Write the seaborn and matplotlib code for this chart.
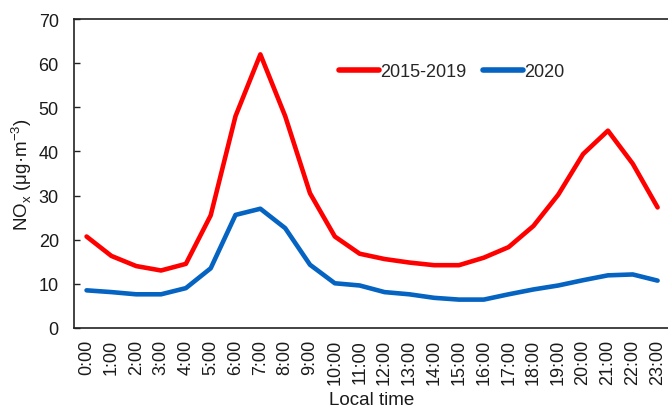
import matplotlib
matplotlib.use("Agg")
import matplotlib.pyplot as plt
import seaborn as sns
import pandas as pd

hours = [f"{h}:00" for h in range(24)]
nox_2015_2019 = [20.7, 16.3, 14.0, 13.0, 14.5, 25.5, 48.0, 62.0, 48.0, 30.5,
                 20.7, 16.8, 15.6, 14.8, 14.2, 14.2, 15.9, 18.3, 23.1, 30.2,
                 39.4, 44.7, 37.2, 27.3]
nox_2020 = [8.5, 8.1, 7.6, 7.6, 9.0, 13.5, 25.6, 27.0, 22.6, 14.3,
            10.1, 9.6, 8.1, 7.6, 6.8, 6.4, 6.4, 7.6, 8.7, 9.6,
            10.8, 11.9, 12.1, 10.7]
series_names = ["2015-2019", "2020"]
colors = ["#FF0000", "#0563C1"]

df = pd.DataFrame({
    "time": hours * 2,
    "hour": list(range(24)) * 2,
    "NOx": nox_2015_2019 + nox_2020,
    "period": [series_names[0]] * 24 + [series_names[1]] * 24,
})

sns.set_theme(style="white")
plt.rcParams["font.family"] = ["Liberation Sans", "DejaVu Sans"]

fig = plt.figure(figsize=(6.68, 4.10), dpi=100)
ax = fig.add_axes([0.111, 0.198, 0.892, 0.753])

sns.lineplot(data=df, x="hour", y="NOx", hue="period", palette=colors,
             linewidth=3.3, ax=ax, sort=False)

ax.set_xlim(-0.5, 23.5)
ax.set_ylim(0, 70)
ax.set_xticks(range(24))
ax.set_xticklabels(hours, rotation=90, fontsize=13, color="#1a1a1a")
ax.set_yticks(range(0, 71, 10))
ax.tick_params(axis="y", left=True, direction="in", length=4, width=1,
               labelsize=13, labelcolor="#1a1a1a", pad=11, color="#222222")
ax.tick_params(axis="x", length=0, pad=8)
for sp in ax.spines.values():
    sp.set_color("#222222")
    sp.set_linewidth(1.2)

ax.set_xlabel("Local time", fontsize=13.5, color="#1a1a1a", labelpad=5)
ax.set_ylabel(r"NO$_{\mathregular{x}}$ (μg·m$^{\mathregular{-3}}$)", fontsize=13.5,
              color="#1a1a1a", labelpad=3)

leg = ax.legend(loc="center", bbox_to_anchor=(0.634, 0.83), ncol=2,
                frameon=False, fontsize=13, handlelength=2.2,
                handletextpad=0.1, columnspacing=0.9)
for line in leg.get_lines():
    line.set_linewidth(4)

fig.savefig("out.png", dpi=100)
